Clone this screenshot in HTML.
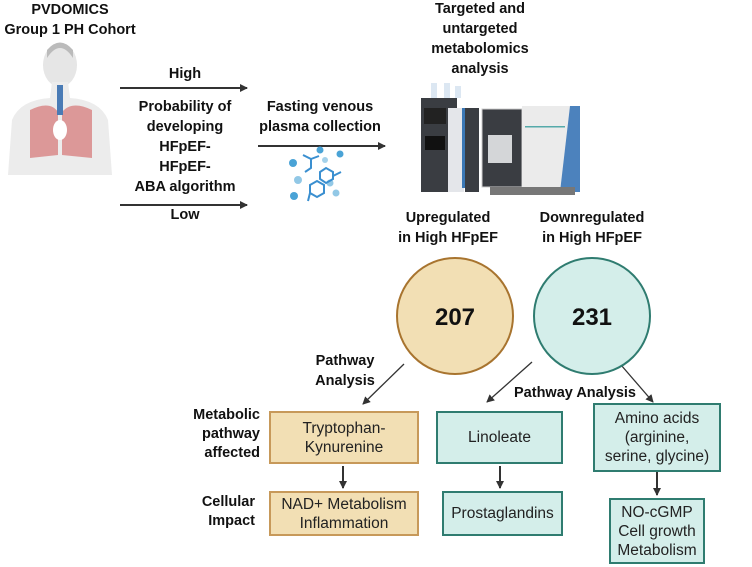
<!DOCTYPE html>
<html><head><meta charset="utf-8"><style>
body{margin:0;width:752px;height:567px;background:#fff;position:relative;overflow:hidden;font-family:"Liberation Sans",Arial,sans-serif;}
.t{position:absolute;font-weight:bold;font-size:14.5px;line-height:20px;text-align:center;color:#111;white-space:nowrap;}
.b{position:absolute;box-sizing:border-box;border:2px solid;display:flex;align-items:center;justify-content:center;text-align:center;font-size:15.5px;line-height:19px;color:#222;}
.y{background:#f2dfb4;border-color:#c7995a;}
.g{background:#d4eeea;border-color:#2f7c70;}
</style></head><body>
<svg width="752" height="567" style="position:absolute;left:0;top:0">
<defs><marker id="a" markerWidth="8" markerHeight="8" refX="7" refY="4" orient="auto" markerUnits="userSpaceOnUse"><path d="M0,0 L8,4 L0,8z" fill="#333"/></marker></defs>
<g stroke="#333" stroke-width="2" marker-end="url(#a)">
<line x1="120" y1="88" x2="247" y2="88"/>
<line x1="120" y1="205" x2="247" y2="205"/>
<line x1="258" y1="146" x2="385" y2="146"/>
<line x1="343" y1="466" x2="343" y2="488"/>
<line x1="500" y1="466" x2="500" y2="488"/>
<line x1="657" y1="472" x2="657" y2="495"/>
</g>
<g stroke="#333" stroke-width="1.3" marker-end="url(#a)">
<line x1="404" y1="364" x2="363" y2="404"/>
<line x1="532" y1="362" x2="487" y2="402"/>
<line x1="615" y1="358" x2="653" y2="402"/>
</g>
<ellipse cx="60" cy="65" rx="17" ry="22" fill="#e6e6e6"/>
<path d="M47,58 Q60,38 73,58 L73,50 Q60,35 47,50z" fill="#bbb"/>
<path d="M52,82 L68,82 L70,98 Q100,100 108,120 L112,175 L8,175 L12,120 Q20,100 50,98z" fill="#ececec"/>
<path d="M30,110 Q50,100 58,112 L58,155 L30,158z M62,112 Q72,100 92,110 L92,158 L62,155z" fill="#d98a8a" opacity="0.85"/>
<rect x="57" y="85" width="6" height="30" fill="#4a7bb5"/>
<ellipse cx="60" cy="130" rx="7" ry="10" fill="#fff"/>
<g fill="#4aa3d6"><circle cx="293" cy="163" r="4"/><circle cx="320" cy="150" r="3.5"/><circle cx="340" cy="154" r="3.5"/><circle cx="298" cy="180" r="4" opacity=".6"/><circle cx="330" cy="183" r="3.5" opacity=".6"/><circle cx="294" cy="196" r="4"/><circle cx="336" cy="193" r="3.5" opacity=".6"/><circle cx="325" cy="160" r="3" opacity=".5"/></g>
<g stroke="#3a8fd0" stroke-width="2" fill="none"><path d="M303,155 l8,4 l0,9 l-6,4 M311,159 l8,-3"/><path d="M320,172 l6,-4 l7,4 l0,7 l-7,4 l-6,-4z M333,176 l8,-4"/><path d="M310,185 l7,-4 l7,4 l0,8 l-7,4 l-7,-4z M310,193 l-2,8"/></g>
<rect x="421" y="98" width="36" height="94" fill="#3a3d42"/>
<rect x="424" y="108" width="22" height="16" fill="#222"/>
<rect x="425" y="136" width="20" height="14" fill="#111"/>
<rect x="448" y="108" width="16" height="84" fill="#e4e6ea"/>
<rect x="462" y="108" width="3" height="80" fill="#3b78b5"/>
<rect x="465" y="108" width="14" height="84" fill="#3a3d42"/>
<rect x="431" y="83" width="6" height="15" fill="#dce7f2"/><rect x="444" y="83" width="6" height="15" fill="#dce7f2"/><rect x="455" y="86" width="6" height="12" fill="#dce7f2"/>
<rect x="482" y="109" width="40" height="78" fill="#3a3d42" stroke="#ccc"/>
<rect x="488" y="135" width="24" height="28" fill="#d4d6d8"/>
<rect x="522" y="106" width="58" height="86" fill="#ebebeb"/>
<path d="M570,106 L580,106 L580,192 L560,192z" fill="#4c82bd"/>
<rect x="525" y="126" width="40" height="1.5" fill="#5aa"/>
<rect x="490" y="187" width="85" height="8" fill="#777"/>
<circle cx="455" cy="316" r="58" fill="#f2dfb4" stroke="#a8742f" stroke-width="2"/>
<circle cx="592" cy="316" r="58" fill="#d4eeea" stroke="#2f7c70" stroke-width="2"/>
<text x="455" y="325" font-size="24" font-weight="bold" text-anchor="middle" font-family="Liberation Sans, sans-serif" fill="#111">207</text>
<text x="592" y="325" font-size="24" font-weight="bold" text-anchor="middle" font-family="Liberation Sans, sans-serif" fill="#111">231</text>
</svg>
<div class="t" style="left:0;width:140px;top:0">PVDOMICS<br>Group 1 PH Cohort</div>
<div class="t" style="left:125px;width:120px;top:64px">High</div>
<div class="t" style="left:115px;width:140px;top:97px;line-height:20px">Probability of<br>developing<br>HFpEF-<br>HFpEF-<br>ABA algorithm</div>
<div class="t" style="left:125px;width:120px;top:205px">Low</div>
<div class="t" style="left:250px;width:140px;top:97px">Fasting venous<br>plasma collection</div>
<div class="t" style="left:420px;width:120px;top:-1px">Targeted and<br>untargeted<br>metabolomics<br>analysis</div>
<div class="t" style="left:388px;width:120px;top:208px">Upregulated<br>in High HFpEF</div>
<div class="t" style="left:527px;width:130px;top:208px">Downregulated<br>in High HFpEF</div>
<div class="t" style="left:305px;width:80px;top:351px;line-height:20px">Pathway<br>Analysis</div>
<div class="t" style="left:510px;width:130px;top:383px">Pathway Analysis</div>
<div class="t" style="left:190px;width:70px;top:406px;text-align:right;line-height:19px">Metabolic<br>pathway<br>affected</div>
<div class="t" style="left:190px;width:65px;top:493px;text-align:right;line-height:19px">Cellular<br>Impact</div>
<div class="b y" style="left:269px;top:411px;width:150px;height:53px">Tryptophan-<br>Kynurenine</div>
<div class="b y" style="left:269px;top:491px;width:150px;height:45px">NAD+ Metabolism<br>Inflammation</div>
<div class="b g" style="left:436px;top:411px;width:127px;height:53px">Linoleate</div>
<div class="b g" style="left:442px;top:491px;width:121px;height:45px">Prostaglandins</div>
<div class="b g" style="left:593px;top:403px;width:128px;height:69px">Amino acids<br>(arginine,<br>serine, glycine)</div>
<div class="b g" style="left:609px;top:498px;width:96px;height:66px">NO-cGMP<br>Cell growth<br>Metabolism</div>
</body></html>
